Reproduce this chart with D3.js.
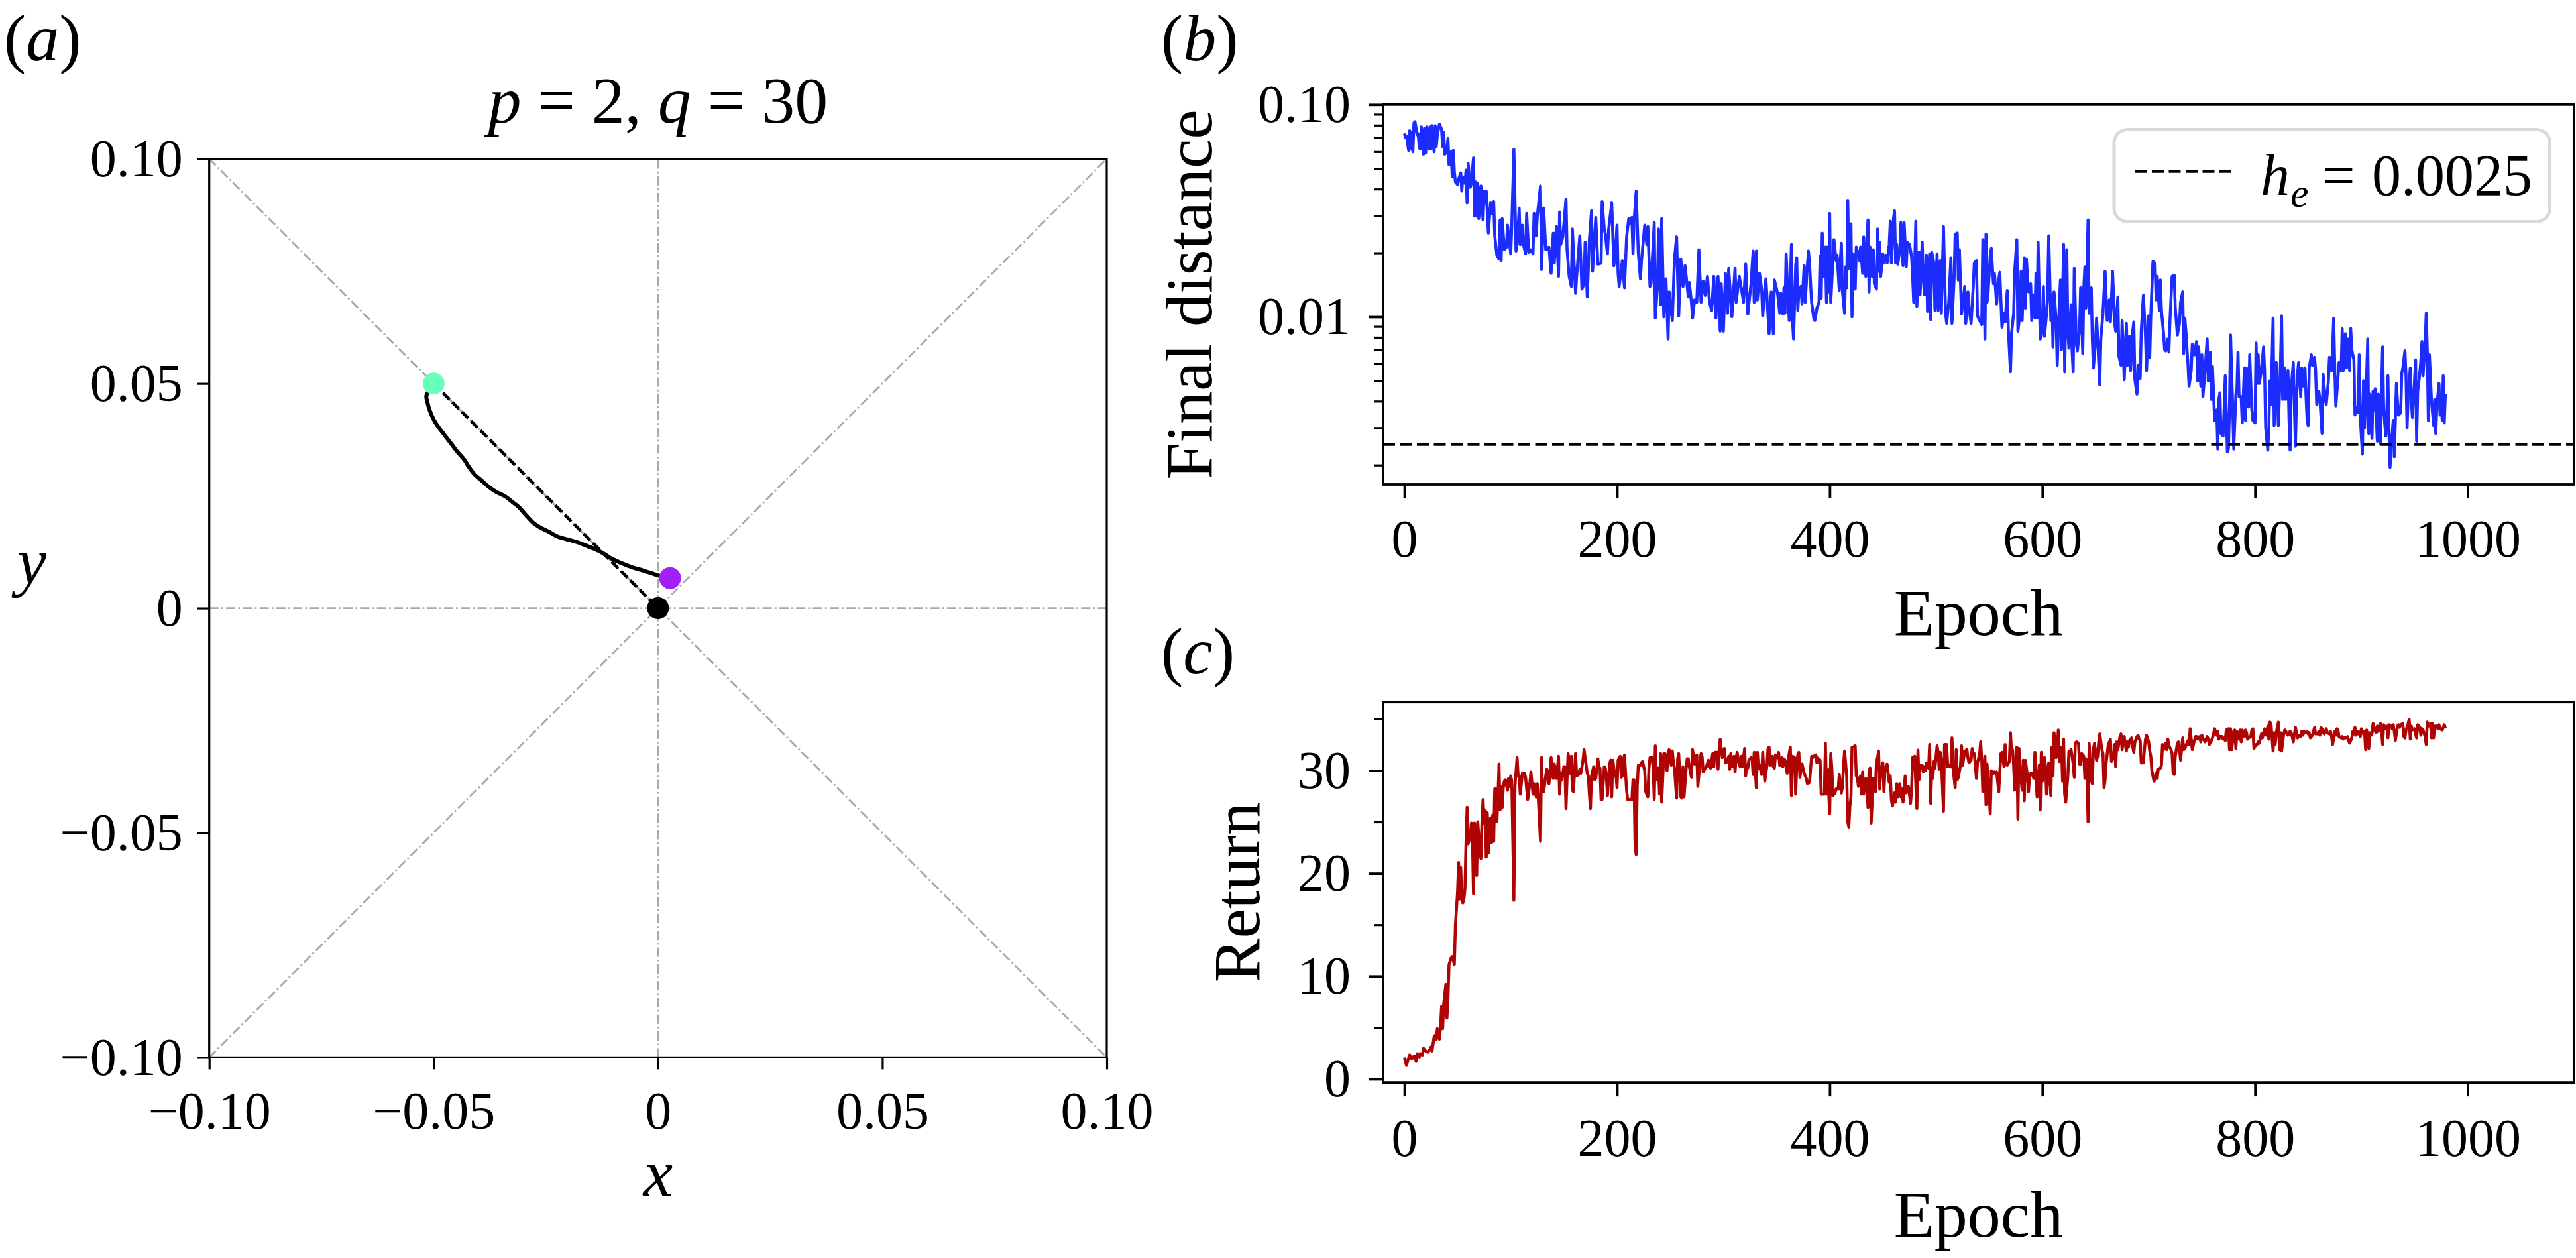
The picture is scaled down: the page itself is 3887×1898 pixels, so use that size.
<!DOCTYPE html>
<html><head><meta charset="utf-8">
<script src="https://cdn.jsdelivr.net/npm/d3@7"></script>
<style>body{margin:0;background:#fff}</style>
</head><body>
<svg id="fig" width="3887" height="1898" xmlns="http://www.w3.org/2000/svg"></svg>
<script>
// ---------------- DATA ----------------
// panel (a): trajectory in the (x, y) plane
const trajectory = [[-0.05,0.05],[-0.0516,0.0473],[-0.0514,0.0459],[-0.0509,0.0441],[-0.0501,0.0422],[-0.0492,0.0407],[-0.0477,0.0387],[-0.0460,0.0365],[-0.0447,0.0348],[-0.0432,0.0331],[-0.0420,0.0312],[-0.0408,0.0297],[-0.0393,0.0284],[-0.0376,0.0269],[-0.0361,0.0259],[-0.0341,0.0249],[-0.0324,0.0236],[-0.0309,0.0224],[-0.0295,0.0208],[-0.0280,0.0192],[-0.0265,0.0181],[-0.0245,0.0171],[-0.0223,0.0159],[-0.0206,0.0154],[-0.0184,0.0148],[-0.0162,0.0140],[-0.0142,0.0132],[-0.0122,0.0122],[-0.0103,0.0110],[-0.0083,0.0101],[-0.0058,0.0091],[-0.0034,0.0084],[-0.0009,0.0076],[0.0006,0.0071],[0.0027,0.0067]];
const startPoint = [-0.05, 0.05];
const endPoint = [0.0027, 0.0067];
const targetPoint = [0, 0];
const refLines = [[[-0.1,0],[0.1,0]],[[0,-0.1],[0,0.1]],[[-0.1,-0.1],[0.1,0.1]],[[-0.1,0.1],[0.1,-0.1]]];
const xyTicks = [-0.1,-0.05,0,0.05,0.1];
const xyTickLabels = ["\u22120.10","\u22120.05","0","0.05","0.10"];

// panel (b): final distance per epoch
const finalDistance = [[0,.0731],[1,.0701],[2,.0711],[4,.0608],[5,.0753],[6,.0617],[7,.0742],[8,.0599],[9,.0820],[10,.0831],[12,.0721],[13,.0731],[14,.0625],[15,.0617],[16,.0785],[18,.0583],[19,.0774],[20,.0591],[21,.0785],[23,.0617],[24,.0785],[25,.0617],[26,.0796],[28,.0599],[29,.0796],[30,.0634],[31,.0721],[33,.0808],[35,.0764],[36,.0634],[37,.0742],[38,.0583],[40,.0599],[41,.0691],[42,.0519],[44,.0599],[45,.0457],[46,.0608],[47,.0484],[48,.0432],[50,.0420],[51,.0445],[53,.0477],[54,.0391],[55,.0457],[57,.0426],[58,.0491],[59,.0344],[60,.0527],[62,.0408],[63,.0426],[65,.0561],[66,.0298],[67,.0432],[68,.0298],[69,.0426],[70,.0290],[72,.0414],[74,.0286],[75,.0391],[76,.0344],[77,.0391],[79,.0248],[81,.0344],[82,.0307],[84,.0349],[85,.0241],[87,.0195],[89,.0187],[90,.0286],[91,.0184],[92,.0290],[94,.0207],[96,.0213],[97,.0270],[100,.0198],[101,.0266],[103,.0617],[105,.0204],[106,.0219],[108,.0325],[109,.0219],[111,.0270],[112,.0219],[114,.0198],[115,.0307],[117,.0201],[119,.0207],[121,.0198],[122,.0307],[124,.0241],[125,.0298],[128,.0414],[129,.0167],[131,.0325],[133,.0207],[136,.0213],[138,.0160],[140,.0248],[141,.0179],[143,.0266],[145,.0155],[146,.0312],[147,.0219],[149,.0238],[152,.0359],[153,.0207],[155,.0155],[157,.0139],[158,.0259],[161,.0129],[162,.0155],[165,.0241],[167,.0135],[169,.0143],[170,.0225],[172,.0124],[174,.0231],[176,.0316],[177,.0164],[180,.0294],[182,.0177],[185,.0179],[186,.0349],[188,.0259],[189,.0245],[191,.0198],[192,.0255],[195,.0344],[197,.0174],[198,.0193],[200,.0270],[201,.0160],[202,.0139],[205,.0184],[207,.0137],[209,.0238],[211,.0290],[212,.0274],[214,.0294],[215,.0198],[216,.0282],[218,.0391],[220,.0201],[222,.0151],[223,.0184],[226,.0270],[228,.0219],[229,.0266],[231,.0139],[232,.0143],[235,.0278],[236,.00986],[238,.0139],[239,.0259],[241,.0114],[242,.0290],[244,.0100],[246,.0151],[248,.00786],[249,.0131],[252,.00959],[254,.0187],[256,.0238],[258,.0101],[260,.0187],[262,.0139],[264,.0174],[267,.0124],[268,.0145],[270,.0117],[271,.00986],[273,.0120],[275,.0117],[277,.0207],[279,.0117],[281,.0147],[283,.0126],[285,.0155],[287,.0117],[289,.0107],[291,.0155],[293,.00986],[295,.0155],[297,.00855],[298,.0143],[300,.00855],[302,.0160],[304,.0104],[305,.0169],[308,.0100],[311,.0169],[312,.0117],[315,.0155],[318,.0126],[319,.0117],[321,.0177],[323,.0103],[326,.0143],[328,.0204],[329,.0117],[331,.0204],[332,.0120],[334,.0160],[336,.0135],[337,.0101],[340,.0151],[343,.00832],[345,.0131],[347,.00832],[348,.0149],
[351,.0129],[353,.0104],[354,.0129],[356,.0103],[357,.0137],[358,.0104],[359,.0198],[361,.0117],[362,.00959],[364,.0219],[365,.00959],[366,.00786],[368,.0174],[369,.0190],[370,.0107],[371,.0131],[373,.0139],[374,.0115],[376,.0174],[377,.0117],[379,.0174],[380,.0204],[381,.0179],[383,.0117],[385,.00986],[386,.00959],[388,.0110],[390,.0117],[391,.0193],[392,.0122],[393,.0248],[394,.0155],[396,.0213],[397,.0117],[398,.0213],[399,.0131],[400,.0307],[401,.0117],[403,.0184],[404,.0231],[406,.0184],[407,.0195],[409,.0133],[410,.0184],[411,.0222],[412,.0131],[414,.0104],[415,.0172],[416,.0137],[417,.0354],[418,.0169],[420,.0274],[421,.0100],[422,.0198],[424,.0135],[425,.0213],[427,.0195],[428,.0184],[429,.0213],[431,.0160],[432,.0238],[434,.0155],[435,.0213],[436,.0286],[437,.0131],[438,.0213],[440,.0155],[441,.0207],[442,.0143],[444,.0135],[445,.0259],[446,.0164],[447,.0225],[448,.0155],[450,.0198],[451,.0179],[453,.0195],[454,.0179],[456,.0219],[457,.0282],[458,.0179],[460,.0290],[461,.0316],[462,.0179],[463,.0219],[464,.0177],[466,.0207],[467,.0278],[469,.0174],[470,.0278],[472,.0172],[473,.0225],[475,.0219],[477,.0193],[478,.0155],[479,.0117],[481,.0282],[482,.0112],[484,.0201],[485,.0127],[487,.0225],[488,.0155],[489,.0127],[491,.0195],[492,.0106],[494,.0198],[495,.00972],[496,.0201],[498,.0179],[499,.0107],[501,.0198],[502,.0107],[504,.0184],[505,.0104],[507,.0266],[509,.0104],[510,.00931],[512,.0117],[514,.0190],[515,.00931],[517,.0151],[518,.0245],[520,.0248],[521,.0149],[522,.0207],[524,.0103],[525,.0114],[527,.0139],[528,.00931],[530,.0131],[531,.0110],[533,.00931],[535,.0139],[536,.0179],[538,.0184],[539,.0101],[541,.00959],[543,.00918],[544,.0231],[545,.0219],[546,.00786],[547,.0245],[548,.0117],[549,.0131],[551,.0195],[552,.0210],[554,.0143],[555,.0160],[557,.0115],[558,.0139],[560,.0162],[562,.00893],[564,.0104],[565,.00945],[567,.0133],[568,.00880],[570,.00550],[571,.00832],[573,.0104],[574,.0164],[576,.0231],[577,.00855],[579,.0104],[580,.0164],[581,.00959],[583,.0190],[584,.0110],[585,.0187],[587,.0131],[589,.0143],[590,.00959],[591,.0127],[593,.00986],[594,.0160],[595,.00986],[596,.0225],[598,.00786],[600,.00931],[601,.0139],[602,.00809],[604,.0104],[605,.0126],[606,.0241],[608,.00959],[609,.0127],[610,.00721],[611,.0131],[613,.00959],[614,.00591],[616,.0117],[617,.0149],[618,.00701],[620,.0219],[621,.00550],[623,.0207],[624,.00855],[625,.00711],[627,.0114],[628,.00691],[629,.00550],[630,.0169],[632,.00742],[633,.00691],[635,.00880],[636,.0137],[638,.00672],[639,.0137],[640,.0172],[641,.0110],[642,.0174],[643,.0286],[644,.0104],[646,.0137],[647,.00786],[648,.00574],[650,.00775],[651,.00986],[652,.00786],[654,.00478],[655,.00786],[657,.0104],[659,.0164],[660,.0124],[661,.00959],[663,.0120],[664,.00945],[665,.0120],[666,.0164],[668,.00931],[669,.00855],[671,.0124],[672,.00653],[674,.00591],[675,.00959],[676,.00711],[677,.00505],[679,.00931],[680,.00591],[682,.00809],[683,.00558],[685,.00855],[686,.00945],[687,.00505],[689,.00432],[690,.00591],[692,.00512],[693,.00855],[695,.0126],[697,.00809],[698,.00558],[700,.0101],[701,.00644],[702,.0101],[704,.0182],[706,.0179],[707,.0120],[708,.0155],[710,.0107],[711,.0149],[712,.0107],[714,.00832],[715,.00701],[716,.00691],[718,.00786],[719,.00682],[720,.00959],[722,.0155],
[724,.0157],[725,.0110],[727,.00820],[728,.00880],[729,.00931],[730,.0117],[732,.0131],[733,.00672],[734,.00986],[735,.00855],[737,.00591],[738,.00471],[740,.00558],[741,.00742],[743,.00662],[745,.00764],[746,.00499],[747,.00721],[749,.00471],[750,.00662],[751,.00420],[753,.00558],[755,.00786],[756,.00499],[758,.00682],[759,.00408],[760,.00583],[762,.00325],[764,.00364],[765,.00238],[766,.00408],[767,.00438],[768,.00282],[770,.00274],[771,.00375],[772,.00527],[774,.00231],[775,.00238],[776,.00375],[777,.00820],[779,.00375],[780,.00238],[782,.00432],[783,.00458],[784,.00682],[785,.00420],[787,.00420],[788,.00316],[790,.00574],[791,.00325],[792,.00574],[794,.00375],[795,.00662],[797,.00364],[798,.00325],[800,.00316],[801,.00753],[802,.00485],[803,.00662],[804,.00485],[806,.00558],[808,.00721],[809,.00558],[810,.00299],[812,.00235],[813,.00299],[814,.00499],[815,.00386],[817,.00986],[818,.00307],[819,.00420],[820,.00608],[822,.00307],[823,.00432],[824,.00608],[825,.0101],[826,.00408],[828,.00574],[829,.00408],[831,.00558],[832,.00325],[833,.00235],[834,.00458],[836,.00608],[838,.00245],[839,.00408],[840,.00542],[841,.00608],[843,.00420],[844,.00574],[845,.00471],[847,.00574],[848,.00420],[849,.00325],[850,.00307],[851,.00574],[853,.00662],[854,.00591],[856,.00644],[857,.00558],[858,.00386],[860,.00445],[861,.00408],[863,.00282],[864,.00535],[866,.00408],[867,.00386],[869,.00499],[870,.00644],[872,.00558],[873,.00721],[874,.00986],[875,.00574],[876,.00380],[878,.00512],[879,.00608],[881,.00558],[882,.00880],[883,.00558],[885,.00832],[886,.00574],[887,.00786],[889,.00558],[890,.00880],[891,.00701],[893,.00626],[894,.00344],[895,.00375],[897,.00354],[898,.00662],[899,.00335],[901,.00225],[902,.00499],[903,.00299],[905,.00527],[906,.00786],[907,.00282],[908,.00432],[910,.00267],[911,.00445],[912,.00364],[913,.00458],[915,.00259],[916,.00432],[918,.00252],[919,.00445],[920,.00721],[921,.00364],[923,.00274],[924,.00364],[925,.00527],[926,.00282],[927,.00195],[928,.00245],[930,.00325],[931,.00219],[933,.00485],[934,.00397],[935,.00344],[937,.00354],[938,.00542],[939,.00574],[941,.00691],[942,.00527],[943,.00299],[944,.00420],[946,.00574],[947,.00408],[948,.00335],[950,.00499],[951,.00626],[952,.00259],[953,.00445],[955,.00542],[956,.00626],[957,.00764],[958,.00527],[960,.00742],[961,.0104],[962,.00701],[963,.00325],[964,.00662],[966,.00397],[968,.00307],[969,.00408],[970,.00282],[971,.00375],[973,.00485],[974,.00344],[975,.00432],[976,.00325],[977,.00527],[978,.00316],[979,.00432]];
const heThreshold = 0.0025;
const distMajorTicks = [0.01, 0.1];
const distMajorLabels = ["0.01", "0.10"];
const distMinorTicks = [0.002,0.003,0.004,0.005,0.006,0.007,0.008,0.009,0.02,0.03,0.04,0.05,0.06,0.07,0.08,0.09];

// panel (c): return per epoch
const returns = [[0,2.09],[2,1.32],[3,1.71],[5,2.34],[6,2.22],[7,1.96],[9,2.22],[10,2.22],[11,1.71],[12,2.47],[14,2.09],[15,2.47],[17,2.34],[18,2.98],[20,2.73],[22,2.60],[24,2.85],[25,3.11],[26,2.73],[28,4.13],[29,4.25],[30,3.87],[31,4.89],[33,3.87],[34,5.02],[35,7.06],[36,4.89],[37,7.31],[39,9.22],[40,5.91],[41,7.82],[42,11.13],[44,11.77],[45,11.90],[47,11.13],[48,14.95],[50,18.14],[51,21.06],[52,17.50],[53,20.56],[54,17.50],[55,17.12],[56,17.50],[57,18.52],[58,23.10],[59,26.41],[60,22.85],[62,23.61],[63,24.89],[64,23.61],[65,18.01],[66,24.89],[67,22.59],[68,19.79],[69,25.01],[71,22.08],[72,21.45],[73,25.14],[74,27.18],[75,24.89],[76,26.16],[77,21.57],[78,25.90],[79,21.96],[81,25.39],[82,22.97],[83,25.65],[84,23.10],[85,28.20],[86,28.20],[87,25.01],[88,27.31],[89,30.62],[90,26.16],[91,28.45],[92,26.41],[93,28.32],[94,28.96],[95,29.09],[97,28.07],[98,29.22],[99,28.45],[100,29.47],[101,28.96],[103,17.37],[104,28.45],[106,31.25],[107,29.47],[108,29.47],[109,27.69],[111,29.72],[112,29.47],[113,29.72],[114,29.34],[116,27.18],[118,28.71],[119,29.85],[121,27.69],[122,28.71],[124,27.43],[125,28.71],[126,27.18],[128,23.10],[129,31.25],[130,27.94],[131,27.94],[133,29.47],[134,30.11],[136,28.71],[137,29.98],[138,31.25],[139,29.72],[140,29.22],[141,30.62],[143,29.22],[144,30.23],[145,31.38],[146,27.69],[147,29.72],[148,29.09],[150,30.36],[151,30.36],[152,26.29],[153,29.22],[154,31.64],[156,29.72],[157,31.38],[158,28.07],[159,27.94],[161,31.64],[162,29.47],[164,29.60],[165,30.11],[166,29.72],[168,31.00],[169,32.02],[170,31.25],[172,29.72],[173,29.47],[174,27.69],[175,26.29],[176,29.47],[178,30.36],[179,29.09],[180,29.22],[182,31.13],[183,30.23],[184,30.23],[185,27.18],[186,27.18],[188,30.36],[189,30.23],[190,29.47],[191,27.56],[193,30.62],[194,31.00],[195,27.43],[196,31.00],[198,29.47],[199,29.60],[200,28.32],[201,31.00],[203,31.38],[204,29.34],[205,29.47],[206,31.00],[207,31.51],[209,28.07],[210,27.18],[212,27.18],[214,27.18],[215,29.09],[216,29.09],[217,22.59],[218,21.83],[219,28.45],[220,30.49],[222,30.49],[223,30.74],[224,30.87],[226,29.98],[227,27.94],[229,27.43],[230,30.23],[231,31.25],[233,31.25],[234,30.23],[235,27.18],[236,32.40],[237,29.09],[239,30.23],[240,27.69],[241,31.64],[242,26.92],[244,31.64],[245,31.64],[247,29.98],[248,31.76],[249,32.02],[251,30.49],[252,31.89],[253,30.74],[254,30.23],[256,27.31],[257,31.13],[258,31.64],[260,27.43],[261,27.31],[262,30.36],[263,27.43],[265,30.23],[266,31.13],[267,31.13],[268,30.36],[270,29.34],[271,32.02],[272,31.38],[273,30.62],[275,31.51],[276,28.45],[278,30.74],[279,31.64],[280,31.38],[281,29.85],[283,30.23],[284,30.36],[286,31.00],[287,30.49],[288,30.23],[290,31.64],[291,30.36],[292,31.76],[294,31.76],[295,30.11],[296,32.02],[297,33.04],[299,31.25],[300,31.51],[301,32.14],[302,30.74],[304,30.87],[305,31.38],[306,30.11],[307,31.64],[308,30.36],[310,31.38],[311,29.85],[312,31.25],[313,31.76],[315,30.49],[316,30.36],[317,31.38],[318,30.36],[320,32.14],[321,29.47],[322,30.49],[323,30.23],[324,31.00],[326,31.25],[327,31.13],[328,29.60],[329,31.76],[331,28.32],[332,31.76],[333,30.23],[334,30.49],[336,29.60],[337,31.76],[338,30.23],[339,28.96],[341,30.49],[342,32.14],[343,32.27],[344,30.49],[346,31.38],[347,30.36],[348,30.23],[349,31.51],
[351,31.25],[352,31.76],[353,30.49],[355,31.25],[356,30.36],[357,31.13],[358,31.00],[360,29.72],[361,31.13],[363,32.27],[364,27.56],[365,31.38],[367,31.25],[368,27.69],[369,30.49],[370,31.51],[371,31.76],[372,29.34],[374,30.62],[376,29.72],[377,29.47],[378,29.22],[379,28.71],[381,28.83],[383,31.38],[384,31.25],[385,31.38],[387,31.51],[388,30.74],[389,31.20],[391,31.00],[392,27.69],[393,27.69],[395,27.69],[396,32.65],[397,27.69],[398,30.11],[400,25.78],[401,31.64],[402,30.23],[403,27.56],[405,27.81],[406,28.20],[408,28.20],[409,29.60],[411,27.81],[412,28.45],[413,30.49],[414,31.89],[416,29.47],[417,25.01],[418,24.50],[419,26.54],[420,27.43],[421,32.27],[422,32.27],[424,32.40],[425,29.47],[426,29.34],[427,28.45],[429,29.47],[430,27.69],[431,29.85],[432,27.69],[434,29.22],[435,28.71],[436,26.41],[437,29.98],[438,30.23],[439,24.89],[441,29.22],[442,28.07],[443,27.94],[444,31.13],[445,31.25],[446,31.89],[447,28.20],[448,29.98],[450,30.74],[451,27.94],[452,29.98],[453,30.36],[454,30.62],[456,28.83],[457,29.47],[458,27.18],[459,26.54],[461,27.81],[462,26.92],[463,28.71],[464,27.43],[466,28.71],[467,27.43],[468,28.20],[469,26.92],[471,29.47],[472,27.81],[474,28.45],[475,27.69],[476,26.80],[477,28.07],[478,31.25],[480,31.38],[481,28.58],[482,26.29],[483,31.97],[484,29.09],[485,30.49],[487,30.49],[488,29.85],[489,30.36],[490,29.98],[491,30.74],[493,30.23],[494,32.53],[495,26.80],[496,30.23],[497,29.22],[498,30.87],[499,30.23],[501,32.40],[502,31.76],[503,30.11],[504,31.76],[505,31.13],[507,26.03],[508,32.53],[510,32.53],[511,30.36],[512,30.49],[514,30.36],[515,33.16],[516,30.23],[518,28.32],[519,32.02],[520,29.09],[521,29.34],[523,30.49],[524,32.40],[525,30.49],[527,31.89],[528,31.89],[529,32.07],[530,31.25],[531,30.74],[533,31.00],[534,32.14],[535,31.51],[536,31.64],[538,29.22],[539,30.74],[541,31.64],[542,32.78],[543,31.00],[544,27.94],[546,31.38],[547,26.67],[548,30.62],[549,29.09],[551,25.78],[552,29.98],[554,29.72],[555,29.85],[556,29.72],[557,29.85],[559,27.94],[560,29.85],[561,31.64],[562,31.76],[564,30.36],[565,32.53],[566,30.62],[567,30.49],[569,30.87],[570,33.67],[571,31.89],[572,32.02],[573,30.49],[574,28.07],[576,32.27],[577,25.27],[578,32.14],[579,30.23],[581,28.07],[582,31.00],[583,27.05],[584,31.00],[586,29.47],[587,27.94],[588,29.47],[589,29.72],[590,29.72],[592,29.22],[593,31.76],[594,29.72],[595,27.43],[597,30.49],[598,26.16],[599,31.76],[600,28.96],[602,31.25],[603,30.36],[604,27.69],[605,29.47],[606,30.74],[608,27.56],[609,32.27],[610,29.47],[611,33.67],[613,31.25],[614,32.02],[615,33.93],[616,30.87],[618,32.27],[619,28.96],[620,33.04],[621,27.69],[622,26.92],[624,29.47],[625,31.89],[626,31.76],[627,32.02],[629,30.62],[630,29.34],[631,32.65],[632,32.78],[634,32.65],[635,30.62],[636,30.62],[637,31.64],[639,31.38],[640,29.22],[641,31.13],[642,29.22],[643,25.01],[644,32.65],[646,29.09],[647,28.71],[648,32.02],[649,32.65],[651,31.00],[652,31.38],[653,32.78],[654,33.55],[656,32.02],[657,31.64],[658,28.32],[659,29.09],[660,30.74],[662,32.53],[663,32.78],[664,33.04],[665,30.87],[667,31.25],[668,32.53],[669,30.36],[670,32.78],[671,32.02],[673,33.29],[674,33.55],[675,32.02],[676,32.78],[677,33.29],[679,31.89],[680,32.78],[681,32.27],[682,32.91],[684,33.16],[685,32.27],[686,31.76],[687,32.78],[689,33.29],[690,33.42],[691,33.04],[692,32.91],[693,30.74],[695,30.74],[696,32.02],[697,33.04],[698,33.42],[700,32.78],[701,31.89],[702,31.38],[703,29.98],[705,28.96],[706,29.09],[707,29.72],[708,29.22],[709,30.11],[711,30.23],[712,30.49],[713,32.53],[714,32.02],[716,32.65],[717,32.02],[718,33.04],[719,32.40],[721,32.02],[722,31.64],[723,29.72],
[724,29.60],[725,31.38],[727,32.65],[728,32.78],[729,32.02],[730,31.00],[732,33.16],[733,32.02],[734,32.14],[735,32.40],[737,32.91],[738,32.53],[739,34.05],[740,33.04],[741,32.02],[743,32.91],[744,33.29],[745,33.29],[746,33.04],[748,33.29],[749,32.78],[750,33.42],[751,33.16],[753,32.78],[754,33.04],[755,33.29],[756,33.04],[757,32.53],[759,32.91],[760,33.16],[761,33.55],[762,34.05],[764,33.42],[765,33.80],[766,33.04],[767,33.29],[769,33.29],[770,33.04],[771,33.16],[772,32.91],[773,33.93],[775,34.05],[776,32.02],[777,34.05],[778,32.02],[780,33.80],[781,33.93],[782,32.14],[783,33.80],[785,33.04],[786,33.93],[787,32.78],[788,33.93],[790,33.29],[791,33.93],[792,33.67],[793,33.04],[794,33.16],[796,33.29],[797,33.93],[798,34.05],[799,32.14],[801,32.53],[802,32.53],[803,32.78],[804,32.65],[806,33.55],[807,33.16],[808,33.67],[809,34.05],[811,33.42],[812,34.31],[813,33.04],[814,34.69],[815,34.56],[817,31.89],[818,33.67],[819,32.53],[820,33.67],[822,34.69],[823,32.02],[824,33.67],[825,31.89],[827,33.55],[828,33.93],[829,33.80],[830,33.55],[831,33.42],[833,33.80],[834,33.67],[835,33.29],[836,32.78],[838,34.18],[839,33.67],[840,33.16],[841,33.42],[843,33.29],[844,33.80],[845,33.42],[846,33.80],[847,33.67],[849,33.80],[850,33.55],[851,33.67],[852,33.16],[854,33.42],[855,33.80],[856,34.18],[857,33.55],[859,33.55],[860,33.80],[861,33.42],[862,34.18],[863,34.05],[865,33.55],[866,33.80],[867,34.05],[868,33.67],[870,33.55],[871,33.80],[872,33.29],[873,32.53],[875,33.80],[876,33.42],[877,34.05],[878,33.93],[879,33.29],[881,33.16],[882,33.29],[883,33.04],[884,33.16],[886,33.16],[887,33.29],[888,32.91],[889,32.65],[891,33.16],[892,33.80],[893,33.55],[894,34.18],[895,33.42],[897,33.80],[898,33.55],[899,33.29],[900,34.05],[902,33.55],[903,33.80],[904,32.02],[905,33.93],[907,32.14],[908,33.67],[909,33.42],[910,33.55],[911,34.56],[913,33.80],[914,33.67],[915,34.31],[916,33.80],[918,34.56],[919,33.93],[920,32.53],[921,34.44],[923,34.05],[924,34.31],[925,33.16],[926,34.44],[928,34.31],[929,34.05],[930,34.44],[931,33.80],[932,32.91],[934,34.31],[935,34.44],[936,34.18],[937,34.44],[939,34.56],[940,33.29],[941,33.16],[942,33.93],[944,34.56],[945,34.95],[946,33.04],[947,34.31],[948,33.93],[950,34.05],[951,33.55],[952,33.16],[953,34.44],[955,34.18],[956,33.42],[957,34.05],[958,33.93],[960,33.29],[961,32.53],[962,34.69],[963,34.31],[965,34.56],[966,33.16],[967,34.56],[968,33.16],[969,34.31],[971,34.31],[972,34.05],[973,34.44],[974,34.05],[976,33.93],[977,34.18],[978,34.44],[979,34.10]];
const returnMajorTicks = [0, 10, 20, 30];
const returnMinorTicks = [5, 15, 25, 35];
const epochTicks = [0, 200, 400, 600, 800, 1000];

// ---------------- DRAWING ----------------
const FONT = "'Liberation Serif','Times New Roman',Times,serif";
const svg = d3.select("#fig");
svg.append("rect").attr("width", 3887).attr("height", 1898).attr("fill", "#fff");

function drawAxis(g, gen, size, pad, values, labels, fs, sw) {
  gen.tickValues(values).tickSizeInner(size).tickSizeOuter(0).tickPadding(pad)
     .tickFormat(labels ? ((d, i) => labels[i]) : (() => ""));
  g.call(gen);
  g.select(".domain").remove();
  g.attr("font-family", null).attr("font-size", null);
  g.selectAll(".tick line").attr("stroke", "#000").attr("stroke-width", sw);
  g.selectAll(".tick text").attr("font-family", FONT).attr("font-size", fs).attr("fill", "#000");
}
function spines(g, x0, x1, y0, y1, sw) {
  g.append("rect").attr("x", x0).attr("y", y0).attr("width", x1 - x0).attr("height", y1 - y0)
   .attr("fill", "none").attr("stroke", "#000").attr("stroke-width", sw);
}
function label(txt, x, y, opts = {}) {
  const t = svg.append("text").attr("x", x).attr("y", y).attr("font-family", FONT)
    .attr("font-size", opts.fs || 100).attr("fill", "#000").attr("text-anchor", opts.anchor || "middle");
  if (opts.rotate) t.attr("transform", `rotate(-90 ${x} ${y})`);
  if (opts.italic) t.attr("font-style", "italic");
  t.text(txt);
  return t;
}
function panelLetter(letter, x, y) {
  const t = svg.append("text").attr("x", x).attr("y", y).attr("font-family", FONT)
    .attr("font-size", 100).attr("fill", "#000");
  t.append("tspan").text("(");
  t.append("tspan").attr("font-style", "italic").text(letter);
  t.append("tspan").text(")");
}

// ---- panel (a) ----
const A = {x0: 315.7, x1: 1670, y0: 239.7, y1: 1595.4};
const xA = d3.scaleLinear().domain([-0.1, 0.1]).range([A.x0, A.x1]);
const yA = d3.scaleLinear().domain([-0.1, 0.1]).range([A.y1, A.y0]);
const gA = svg.append("g");
gA.selectAll("line.ref").data(refLines).join("line").attr("class", "ref")
  .attr("x1", d => xA(d[0][0])).attr("y1", d => yA(d[0][1]))
  .attr("x2", d => xA(d[1][0])).attr("y2", d => yA(d[1][1]))
  .attr("stroke", "#a9a9a9").attr("stroke-width", 2.8).attr("stroke-dasharray", "14,4.3,2.7,4.3");
gA.append("line")
  .attr("x1", xA(startPoint[0])).attr("y1", yA(startPoint[1]))
  .attr("x2", xA(targetPoint[0])).attr("y2", yA(targetPoint[1]))
  .attr("stroke", "#000").attr("stroke-width", 4.8).attr("stroke-dasharray", "14,6");
gA.append("path").datum(trajectory)
  .attr("d", d3.line().x(d => xA(d[0])).y(d => yA(d[1])).curve(d3.curveCatmullRom.alpha(0.5)))
  .attr("fill", "none").attr("stroke", "#000").attr("stroke-width", 6).attr("stroke-linejoin", "round");
gA.append("circle").attr("cx", xA(startPoint[0])).attr("cy", yA(startPoint[1])).attr("r", 16.5).attr("fill", "#66ffbb");
gA.append("circle").attr("cx", xA(targetPoint[0])).attr("cy", yA(targetPoint[1])).attr("r", 16.5).attr("fill", "#000");
gA.append("circle").attr("cx", xA(endPoint[0])).attr("cy", yA(endPoint[1])).attr("r", 16.5).attr("fill", "#a21ff5");
drawAxis(svg.append("g").attr("transform", `translate(0,${A.y1})`), d3.axisBottom(xA), 18, 33, xyTicks, xyTickLabels, 80, 3.2);
drawAxis(svg.append("g").attr("transform", `translate(${A.x0},0)`), d3.axisLeft(yA), 18, 22, xyTicks, xyTickLabels, 80, 3.2);
spines(svg, A.x0, A.x1, A.y0, A.y1, 3.2);
// title
const title = svg.append("text").attr("x", (A.x0 + A.x1) / 2).attr("y", 185).attr("text-anchor", "middle")
  .attr("font-family", FONT).attr("font-size", 100).attr("fill", "#000");
title.append("tspan").attr("font-style", "italic").text("p");
title.append("tspan").text(" = 2, ");
title.append("tspan").attr("font-style", "italic").text("q");
title.append("tspan").text(" = 30");
label("x", (A.x0 + A.x1) / 2, 1804, {italic: true});
label("y", 48, 881, {italic: true});
panelLetter("a", 6, 91);

// ---- panel (b) ----
const B = {x0: 2087, x1: 3884, y0: 157.8, y1: 731};
const xB = d3.scaleLinear().domain([-20, 1100]).range([B.x0, B.x1]);
const yB = d3.scaleLog().domain([0.00162, 0.1]).range([B.y1, B.y0]);
const gB = svg.append("g");
gB.append("path").datum(finalDistance)
  .attr("d", d3.line().x(d => xB(d[0])).y(d => yB(d[1])))
  .attr("fill", "none").attr("stroke", "#1c2cff").attr("stroke-width", 4.5).attr("stroke-linejoin", "round");
gB.append("line").attr("x1", B.x0).attr("x2", B.x1).attr("y1", yB(heThreshold)).attr("y2", yB(heThreshold))
  .attr("stroke", "#000").attr("stroke-width", 4.2).attr("stroke-dasharray", "18,7.5");
drawAxis(svg.append("g").attr("transform", `translate(0,${B.y1})`), d3.axisBottom(xB), 21, 31, epochTicks, epochTicks.map(String), 80, 3.8);
drawAxis(svg.append("g").attr("transform", `translate(${B.x0},0)`), d3.axisLeft(yB), 21, 28, distMajorTicks, distMajorLabels, 80, 3.8);
drawAxis(svg.append("g").attr("transform", `translate(${B.x0},0)`), d3.axisLeft(yB), 13, 0, distMinorTicks, null, 80, 3.2);
spines(svg, B.x0, B.x1, B.y0, B.y1, 3.8);
// legend
const lg = svg.append("g").attr("transform", "translate(3190,195.4)");
lg.append("rect").attr("width", 657.5).attr("height", 139).attr("rx", 20).attr("ry", 20)
  .attr("fill", "#fff").attr("fill-opacity", 0.85).attr("stroke", "#d6dcda").attr("stroke-width", 5);
lg.append("line").attr("x1", 31.5).attr("x2", 184).attr("y1", 63.2).attr("y2", 63.2)
  .attr("stroke", "#000").attr("stroke-width", 4.2).attr("stroke-dasharray", "18,7.5");
const lt = lg.append("text").attr("y", 98.6).attr("font-family", FONT).attr("font-size", 88).attr("fill", "#000");
lt.append("tspan").attr("x", 221).attr("font-style", "italic").text("h");
lt.append("tspan").attr("x", 266).attr("dy", 18).attr("font-size", 62).attr("font-style", "italic").text("e");
lt.append("tspan").attr("x", 314).attr("dy", -18).text("=");
lt.append("tspan").attr("x", 389).text("0.0025");
label("Epoch", (B.x0 + B.x1) / 2, 958);
label("Final distance", 1828, (B.y0 + B.y1) / 2, {rotate: true});
panelLetter("b", 1752, 91);

// ---- panel (c) ----
const C = {x0: 2087, x1: 3884, y0: 1059.2, y1: 1633.1};
const xC = d3.scaleLinear().domain([-20, 1100]).range([C.x0, C.x1]);
const yC = d3.scaleLinear().domain([-0.33, 36.65]).range([C.y1, C.y0]);
svg.append("path").datum(returns)
  .attr("d", d3.line().x(d => xC(d[0])).y(d => yC(d[1])))
  .attr("fill", "none").attr("stroke", "#b00404").attr("stroke-width", 4.5).attr("stroke-linejoin", "round");
drawAxis(svg.append("g").attr("transform", `translate(0,${C.y1})`), d3.axisBottom(xC), 21, 33, epochTicks, epochTicks.map(String), 80, 3.8);
drawAxis(svg.append("g").attr("transform", `translate(${C.x0},0)`), d3.axisLeft(yC), 21, 28, returnMajorTicks, returnMajorTicks.map(String), 80, 3.8);
drawAxis(svg.append("g").attr("transform", `translate(${C.x0},0)`), d3.axisLeft(yC), 13, 0, returnMinorTicks, null, 80, 3.2);
spines(svg, C.x0, C.x1, C.y0, C.y1, 3.8);
label("Epoch", (C.x0 + C.x1) / 2, 1866);
label("Return", 1900, (C.y0 + C.y1) / 2, {rotate: true});
panelLetter("c", 1752, 1016);
</script>
</body></html>
